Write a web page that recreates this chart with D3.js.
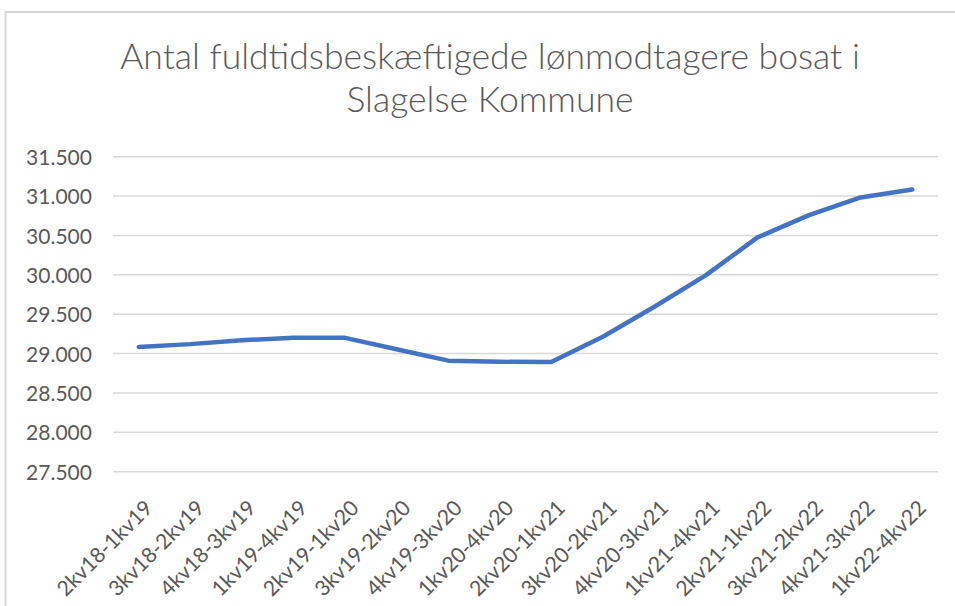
<!DOCTYPE html>
<html>
<head>
<meta charset="utf-8">
<script src="https://cdn.jsdelivr.net/npm/d3@7"></script>
<style>
  html, body { margin: 0; padding: 0; background: #fff; }
  svg { display: block; }
  text { font-family: Lato, "Open Sans", sans-serif; fill: #595959; }
</style>
</head>
<body>
<svg id="chart" width="955" height="606"></svg>
<script>
const titleLines = ["Antal fuldtidsbeskæftigede lønmodtagere bosat i", "Slagelse Kommune"];
const categories = ["2kv18-1kv19","3kv18-2kv19","4kv18-3kv19","1kv19-4kv19","2kv19-1kv20","3kv19-2kv20","4kv19-3kv20","1kv20-4kv20","2kv20-1kv21","3kv20-2kv21","4kv20-3kv21","1kv21-4kv21","2kv21-1kv22","3kv21-2kv22","4kv21-3kv22","1kv22-4kv22"];
const values = [29085, 29120, 29170, 29200, 29200, 29055, 28910, 28895, 28893, 29213, 29595, 29996, 30475, 30758, 30983, 31084];
const yTicks = [27500, 28000, 28500, 29000, 29500, 30000, 30500, 31000, 31500];

const svg = d3.select("#chart");
const plot = { left: 113, right: 938, top: 156.7, bottom: 471.7 };

// chart border (top and left visible)
svg.append("rect").attr("x", 5.5).attr("y", 12).attr("width", 1000).attr("height", 700)
  .attr("fill", "#fff").attr("stroke", "#d9d9d9").attr("stroke-width", 2);

const x = d3.scaleBand().domain(categories).range([plot.left, plot.right]).padding(0);
const y = d3.scaleLinear().domain([27500, 31500]).range([plot.bottom, plot.top]);

const fmt = v => d3.format(",.3f")(v / 1000);

// gridlines
svg.append("g").selectAll("line").data(yTicks).join("line")
  .attr("x1", plot.left).attr("x2", plot.right)
  .attr("y1", d => y(d)).attr("y2", d => y(d))
  .attr("stroke", "#d9d9d9").attr("stroke-width", 1.5);

function fit(sel, target, base) {
  sel.style("font-size", base + "px");
  const w = sel.node().getComputedTextLength();
  const fs = base * target / w;
  sel.style("font-size", fs + "px");
  return fs;
}

// y axis labels
const yAxis = d3.axisLeft(y).tickValues(yTicks).tickSize(0).tickPadding(0).tickFormat(fmt);
const yg = svg.append("g").attr("transform", `translate(92,0)`).call(yAxis);
yg.select(".domain").remove();
const probe = svg.append("text").text("31.500");
const tickFs = fit(probe, 66, 20);
probe.remove();
yg.selectAll("text").attr("fill", "#595959").style("font-family", "Lato, sans-serif")
  .attr("dy", "0.36em").style("font-size", tickFs + "px");

// x axis labels
const xg = svg.append("g");
const probe2 = svg.append("text").text(categories[0]);
const xFs = fit(probe2, 125, 20);
probe2.remove();
xg.selectAll("text").data(categories).join("text")
  .attr("transform", d => `translate(${x(d) + x.bandwidth() / 2 + 10},${504}) rotate(-45)`)
  .attr("text-anchor", "end").attr("dy", "0.35em")
  .style("font-size", xFs + "px")
  .text(d => d);

// line
const line = d3.line().x((d, i) => x(categories[i]) + x.bandwidth() / 2).y(d => y(d));
svg.append("path").datum(values).attr("d", line)
  .attr("fill", "none").attr("stroke", "#4472c4").attr("stroke-width", 4.5)
  .attr("stroke-linejoin", "round").attr("stroke-linecap", "round");

// title
const t1 = svg.append("text").attr("x", 490).attr("y", 69).attr("text-anchor", "middle")
  .style("font-weight", 300).text(titleLines[0]);
const tFs = fit(t1, 740, 30);
svg.append("text").attr("x", 490).attr("y", 112).attr("text-anchor", "middle")
  .style("font-weight", 300).style("font-size", tFs + "px").text(titleLines[1]);
</script>
</body>
</html>
